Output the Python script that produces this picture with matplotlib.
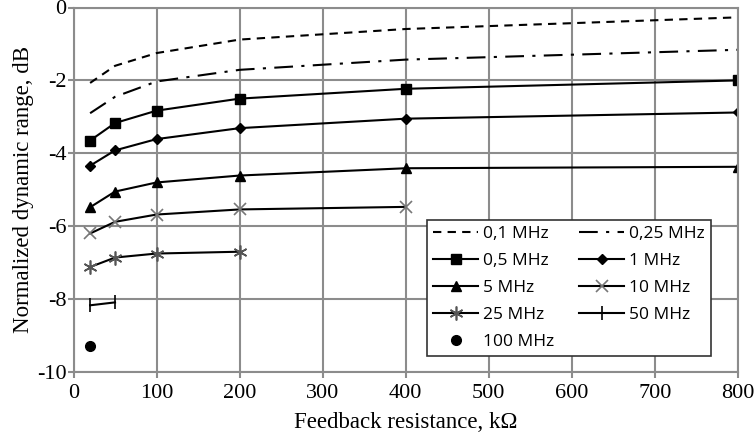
import matplotlib
matplotlib.use("Agg")
import matplotlib.pyplot as plt

plt.rcParams["font.family"] = ["Liberation Serif"]
plt.rcParams["axes.unicode_minus"] = False

x_all = [20, 50, 100, 200, 400, 800]

s_01 = [-2.07, -1.60, -1.25, -0.88, -0.59, -0.27]
s_025 = [-2.90, -2.45, -2.03, -1.71, -1.43, -1.16]
s_05 = [-3.65, -3.17, -2.83, -2.50, -2.23, -2.00]
s_1 = [-4.34, -3.92, -3.61, -3.31, -3.05, -2.88]
s_5 = [-5.48, -5.05, -4.80, -4.61, -4.41, -4.37]
s_10 = [-6.20, -5.88, -5.68, -5.54, -5.47]
s_25 = [-7.12, -6.86, -6.75, -6.70]
s_50 = [-8.17, -8.09]
s_100 = [-9.30]

labels = ["0,1 MHz", "0,25 MHz", "0,5 MHz", "1 MHz", "5 MHz",
          "10 MHz", "25 MHz", "50 MHz", "100 MHz"]

x_ticks = [0, 100, 200, 300, 400, 500, 600, 700, 800]
y_ticks = [0, -2, -4, -6, -8, -10]

fig = plt.figure(figsize=(7.56, 4.37), dpi=100)
ax = fig.add_axes([73.5/756, 1 - 372/437, (738 - 73.5)/756, (372 - 7.5)/437])

grid_c = "#8c8c8c"
ax.set_xlim(0, 800)
ax.set_ylim(-10, 0)
ax.set_xticks(x_ticks)
ax.set_yticks(y_ticks)
ax.grid(True, color=grid_c, linewidth=1.5)
ax.set_axisbelow(True)
for sp in ax.spines.values():
    sp.set_color(grid_c)
    sp.set_linewidth(1.5)
ax.tick_params(axis="both", direction="out", length=4, width=1.5, color=grid_c,
               labelsize=16, pad=1)
ax.tick_params(axis="x", pad=5)
for t in ax.get_xticklabels() + ax.get_yticklabels():
    t.set_family("Liberation Serif")

lw = 1.5
h = []
h.append(ax.plot(x_all, s_01, color="black", lw=lw, dashes=(4, 3))[0])
h.append(ax.plot(x_all, s_025, color="black", lw=lw, dashes=(9, 4, 1.5, 4))[0])
h.append(ax.plot(x_all, s_05, color="black", lw=lw, marker="s", ms=7)[0])
h.append(ax.plot(x_all, s_1, color="black", lw=lw, marker="D", ms=5)[0])
h.append(ax.plot(x_all, s_5, color="black", lw=lw, marker="^", ms=7)[0])
h.append(ax.plot(x_all[:len(s_10)], s_10, color="black", lw=lw, marker="x", ms=9,
                 mec="#777777", mew=1.2)[0])
h.append(ax.plot(x_all[:len(s_25)], s_25, color="black", lw=lw, marker=(6, 2, 0), ms=10,
                 mec="#555555", mew=1.2)[0])
h.append(ax.plot(x_all[:len(s_50)], s_50, color="black", lw=lw, marker="|", ms=10,
                 mew=1.2)[0])
h.append(ax.plot(x_all[:len(s_100)], s_100, color="black", lw=0, marker="o", ms=7)[0])

ax.set_xlabel("Feedback resistance, k\u03a9", fontsize=16.5, labelpad=6)
ax.set_ylabel("Normalized dynamic range, dB", fontsize=16.5, labelpad=2)

order = [0, 2, 4, 6, 8, 1, 3, 5, 7]
leg = ax.legend([h[i] for i in order], [labels[i] for i in order], ncol=2,
                loc="upper left",
                bbox_to_anchor=((427 - 73.5)/(738 - 73.5), 1 - (220 - 7.5)/(372 - 7.5)),
                prop={"family": "Open Sans", "size": 12.5},
                frameon=True, fancybox=False, edgecolor="#333333", framealpha=1,
                handlelength=2.6, columnspacing=1.4, handletextpad=0.3,
                labelspacing=0.62, borderpad=0.35, borderaxespad=0)
leg.get_frame().set_linewidth(1.2)

fig.savefig("out.png", dpi=100)
